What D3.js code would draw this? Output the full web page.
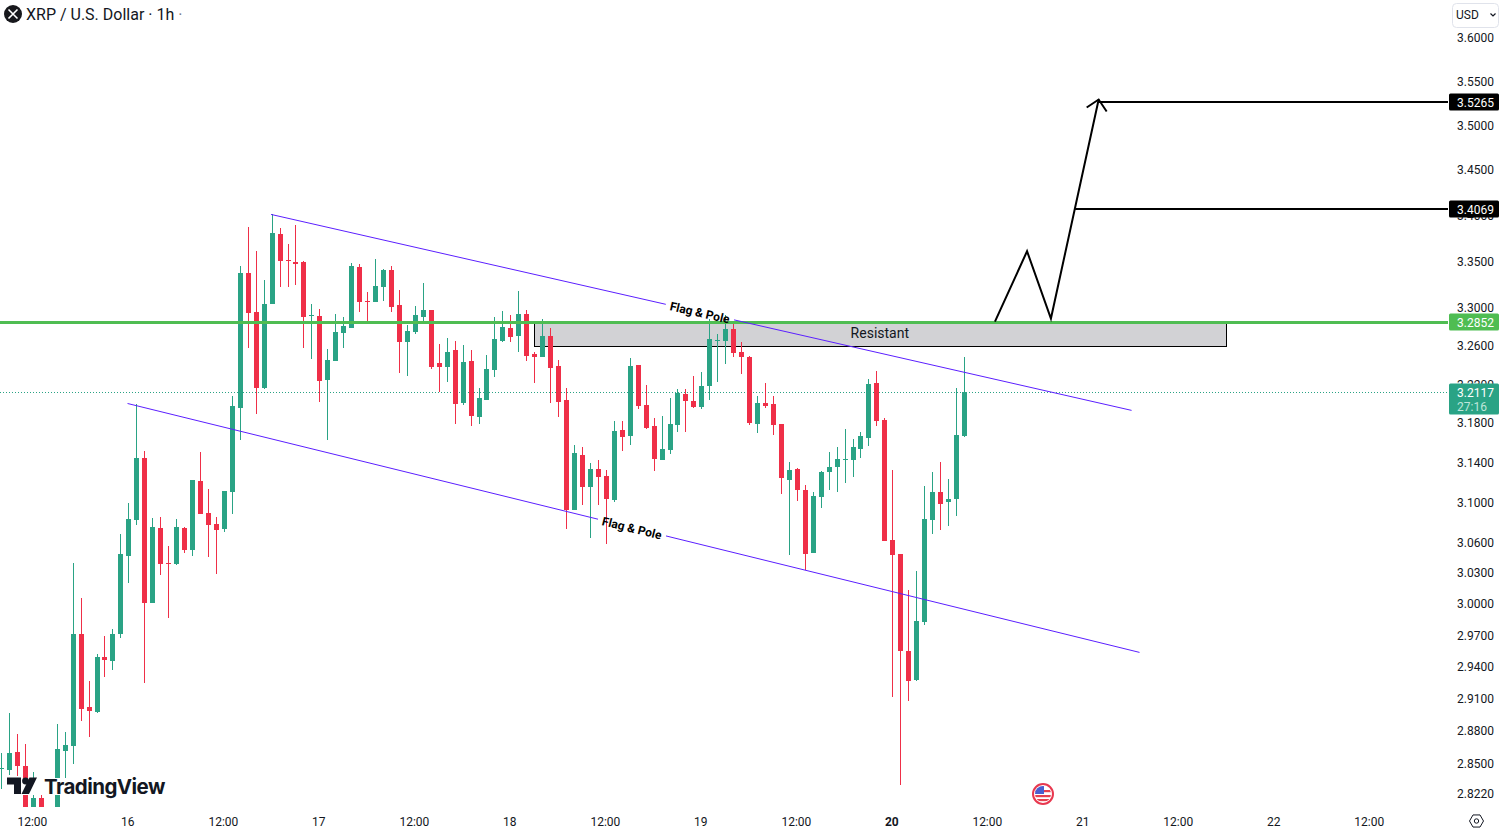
<!DOCTYPE html>
<html>
<head>
<meta charset="utf-8">
<title>XRP / U.S. Dollar</title>
<script src="https://cdnjs.cloudflare.com/ajax/libs/d3/7.9.0/d3.min.js"></script>
<style>
  html, body { margin: 0; padding: 0; background: #fff; overflow: hidden; }
  svg { display: block; font-family: Roboto, sans-serif; }
</style>
</head>
<body>
<svg id="chart" width="1502" height="831"></svg>
<script>
// hourly candles, first one is 15 Jul 08:00
const firstBar = "2025-07-15T08:00Z";
const opens = [
  2.8440,2.8431,2.8596,2.8468,2.8022,2.8175,2.7900,2.8049,2.8605,2.8651,
  2.9704,2.9013,2.8967,2.9485,2.9447,2.9704,3.0459,3.0815,3.1436,3.0001,
  3.0736,3.0391,3.0381,3.0736,3.0518,3.1204,3.0884,3.0776,3.0726,3.1094,
  3.1946,3.3366,3.2949,3.2153,3.3044,3.3788,3.3506,3.3484,3.3484,3.2907,
  3.2907,3.2236,3.2434,3.2728,3.2780,3.3430,3.3076,3.3065,3.3216,3.3398,
  3.3023,3.2633,3.2738,3.2896,3.2970,3.2413,3.2371,3.2548,3.1997,3.2434,
  3.1854,3.2028,3.2340,3.2643,3.2780,3.2696,3.2928,3.2506,3.2475,3.2696,
  3.2382,3.2028,3.0914,3.1466,3.1144,3.1325,3.1254,3.1013,3.1721,3.1659,
  3.2392,3.1977,3.1762,3.1415,3.1526,3.1772,3.2090,3.2018,3.1956,3.2174,
  3.2643,3.2643,3.2770,3.2527,3.2475,3.1782,3.1997,3.1987,3.1782,3.1214,
  3.1325,3.1114,3.0489,3.1043,3.1295,3.1345,3.1415,3.1415,3.1536,3.1639,
  3.2205,3.1823,3.0617,3.0479,2.9542,2.9267,2.9819,3.0815,3.1094,3.0993,
  3.1023,3.1659
];
const closes = [
  2.8449,2.8587,2.8468,2.8094,2.8175,2.8022,2.8000,2.8623,2.8660,2.9704,
  2.8994,2.8976,2.9485,2.9456,2.9704,3.0479,3.0825,3.1436,3.0001,3.0746,
  3.0381,3.0381,3.0746,3.0518,3.1214,3.0874,3.0766,3.0716,3.1104,3.1967,
  3.3366,3.2939,3.2153,3.3044,3.3799,3.3495,3.3495,3.3463,3.2896,3.2918,
  3.2226,3.2444,3.2738,3.2801,3.3441,3.3065,3.3065,3.3226,3.3398,3.3002,
  3.2633,3.2749,3.2918,3.2970,3.2371,3.2371,3.2527,3.1987,3.2423,3.1864,
  3.2049,3.2350,3.2664,3.2791,3.2685,3.2928,3.2486,3.2475,3.2696,3.2361,
  3.2008,3.0914,3.1486,3.1144,3.1325,3.1244,3.1023,3.1711,3.1649,3.2382,
  3.1967,3.1741,3.1425,3.1536,3.1782,3.2101,3.2018,3.1956,3.2174,3.2664,
  3.2654,3.2770,3.2517,3.2475,3.1792,3.1997,3.1967,3.1772,3.1234,3.1315,
  3.1114,3.0479,3.1053,3.1295,3.1345,3.1425,3.1425,3.1547,3.1659,3.2194,
  3.1813,3.0607,3.0469,2.9542,2.9258,2.9829,3.0825,3.1094,3.0973,3.1023,
  3.1670,3.2117
];
const highs = [
  2.8587,2.8957,2.8762,2.8670,2.8413,2.8212,2.8030,2.8857,2.8781,3.0391,
  3.0050,2.9258,2.9513,2.9685,2.9752,3.0676,3.0983,3.1987,3.1516,3.0835,
  3.0845,3.0558,3.0825,3.0746,3.1214,3.1496,3.1124,3.0845,3.1104,3.2079,
  3.3441,3.3865,3.3613,3.3291,3.4006,3.3854,3.3679,3.3887,3.3495,3.3044,
  3.2981,3.2559,3.2928,3.2896,3.3473,3.3463,3.3162,3.3516,3.3409,3.3441,
  3.3184,3.2812,3.3013,3.3259,3.2970,3.2611,3.2675,3.2643,3.2601,3.2548,
  3.2153,3.2496,3.2896,3.2960,3.2918,3.3173,3.2970,3.2527,3.2875,3.2780,
  3.2444,3.2153,3.1577,3.1547,3.1385,3.1415,3.1315,3.1813,3.1813,3.2465,
  3.2392,3.2184,3.1844,3.1864,3.2049,3.2142,3.2142,3.2278,3.2319,3.2875,
  3.2717,3.2918,3.2844,3.2633,3.2486,3.2079,3.2205,3.2079,3.1782,3.1395,
  3.1335,3.1164,3.1094,3.1305,3.1506,3.1547,3.1731,3.1629,3.1700,3.2246,
  3.2330,3.1844,3.1315,3.0479,3.0128,3.0313,3.1154,3.1295,3.1395,3.1224,
  3.2153,3.2475
];
const lows = [
  2.8258,2.8386,2.8376,2.8085,2.7977,2.7932,2.7850,2.7990,2.8294,2.8486,
  2.8883,2.8735,2.8957,2.9296,2.9362,2.9666,3.0196,3.0766,2.9239,3.0001,
  3.0274,2.9858,3.0372,3.0489,3.0459,3.0874,3.0450,3.0284,3.0696,3.0874,
  3.1618,3.2569,3.1885,3.2142,3.3034,3.3216,3.3216,3.3237,3.2569,3.2454,
  3.2008,3.1618,3.2434,3.2569,3.2780,3.2949,3.2844,3.3065,3.3076,3.2949,
  3.2309,3.2278,3.2717,3.2854,3.2350,3.2111,3.2215,3.1782,3.1977,3.1762,
  3.1782,3.2028,3.2267,3.2633,3.2633,3.2527,3.2434,3.2205,3.2475,3.1997,
  3.1854,3.0726,3.0914,3.0964,3.0637,3.0964,3.0577,3.0993,3.1516,3.1577,
  3.1936,3.1731,3.1305,3.1415,3.1476,3.1700,3.1700,3.1946,3.1936,3.2028,
  3.2215,3.2402,3.2475,3.2298,3.1772,3.1690,3.1946,3.1670,3.1074,3.0469,
  3.1003,3.0323,3.0489,3.0934,3.1114,3.1094,3.1184,3.1244,3.1436,3.1557,
  3.1762,3.0607,2.9107,2.8294,2.9078,2.9258,2.9791,3.0676,3.0716,3.0756,
  3.0855,3.1649
];

const priceTicks = [3.6,3.55,3.5,3.45,3.4,3.35,3.3,3.26,3.22,3.18,3.14,3.1,3.06,3.03,3,2.97,2.94,2.91,2.88,2.85,2.822];
const timeTicks = [
  "2025-07-15T12:00Z","2025-07-16T00:00Z","2025-07-16T12:00Z","2025-07-17T00:00Z","2025-07-17T12:00Z",
  "2025-07-18T00:00Z","2025-07-18T12:00Z","2025-07-19T00:00Z","2025-07-19T12:00Z","2025-07-20T00:00Z",
  "2025-07-20T12:00Z","2025-07-21T00:00Z","2025-07-21T12:00Z","2025-07-22T00:00Z","2025-07-22T12:00Z"
].map(d => new Date(d));

// drawings on the chart
const resistLevel = 3.2852;
const lastPrice = 3.2117;
const countdown = "27:16";
const targets = [
  { price: 3.5265, from: "2025-07-21T01:52Z" },
  { price: 3.4069, from: "2025-07-20T22:54Z" }
];
// label = where "Flag & Pole" sits along the line
const channels = [
  { from: ["2025-07-16T17:52Z", 3.4006], to: ["2025-07-21T06:00Z", 3.1926], label: 0.4984 },
  { from: ["2025-07-15T23:50Z", 3.1997], to: ["2025-07-21T07:00Z", 2.9532], label: 0.4985 }
];
const zoneTimes = ["2025-07-18T02:52Z", "2025-07-21T17:52Z"];
const zonePrices = [3.2852, 3.2596];
const projection = [
  ["2025-07-20T12:50Z", 3.2852],
  ["2025-07-20T16:52Z", 3.3605],
  ["2025-07-20T19:52Z", 3.2885],
  ["2025-07-21T01:52Z", 3.5288]
];

const GREEN = "#2aa385", RED = "#ef2f48", LEVEL = "#4fbd52", LINE = "#5b1fff", INK = "#131722";
const paneW = 1448, paneH = 807;

const svg = d3.select("#chart");

const x = d3.scaleUtc()
  .domain([new Date(firstBar), new Date("2025-07-22T12:00Z")])
  .range([1.54, 1370.3]);
const y = d3.scaleLog()
  .domain([2.822, 3.6])
  .range([793.5, 37.5]);

const candles = opens.map((o, i) => ({
  t: d3.utcHour.offset(new Date(firstBar), i),
  o: o, c: closes[i], h: highs[i], l: lows[i]
}));

svg.append("clipPath").attr("id", "pane")
  .append("rect").attr("width", paneW).attr("height", paneH);

const pane = svg.append("g").attr("clip-path", "url(#pane)");

// last price, dotted
pane.append("line")
  .attr("x1", 0).attr("x2", paneW)
  .attr("y1", Math.round(y(lastPrice)) + 0.5).attr("y2", Math.round(y(lastPrice)) + 0.5)
  .attr("stroke", GREEN).attr("stroke-dasharray", "1,2");

// resistant zone goes under the candles
pane.append("rect")
  .attr("x", Math.round(x(new Date(zoneTimes[0]))) + 0.5)
  .attr("y", Math.round(y(zonePrices[0])) + 0.5)
  .attr("width", Math.round(x(new Date(zoneTimes[1])) - x(new Date(zoneTimes[0]))))
  .attr("height", Math.round(y(zonePrices[1]) - y(zonePrices[0])))
  .attr("fill", "#d2d2d5")
  .attr("stroke", "#000")
  .attr("stroke-width", 1);

const bars = pane.append("g").attr("shape-rendering", "crispEdges");
const bar = bars.selectAll("g").data(candles).enter().append("g")
  .attr("fill", d => d.c >= d.o ? GREEN : RED);
bar.append("rect")
  .attr("x", d => Math.floor(x(d.t)))
  .attr("width", 1)
  .attr("y", d => Math.round(y(d.h)))
  .attr("height", d => Math.max(1, Math.round(y(d.l)) - Math.round(y(d.h))));
bar.append("rect")
  .attr("x", d => Math.floor(x(d.t)) - 2)
  .attr("width", 5)
  .attr("y", d => Math.round(y(Math.max(d.o, d.c))))
  .attr("height", d => Math.max(1, Math.round(y(Math.min(d.o, d.c))) - Math.round(y(Math.max(d.o, d.c)))));

// resistance line
pane.append("line")
  .attr("x1", 0).attr("x2", paneW)
  .attr("y1", Math.round(y(resistLevel)) + 0.5).attr("y2", Math.round(y(resistLevel)) + 0.5)
  .attr("stroke", LEVEL).attr("stroke-width", 3);

pane.append("text")
  .attr("x", (x(new Date(zoneTimes[0])) + x(new Date(zoneTimes[1]))) / 2)
  .attr("y", (y(zonePrices[0]) + y(zonePrices[1])) / 2 + 4)
  .attr("text-anchor", "middle")
  .attr("font-size", 14)
  .attr("fill", INK)
  .text("Resistant");

// channel lines, each with a gap for its label
channels.forEach(c => {
  const x0 = x(new Date(c.from[0])), y0 = y(c.from[1]);
  const x1 = x(new Date(c.to[0])), y1 = y(c.to[1]);
  const len = Math.hypot(x1 - x0, y1 - y0);
  const gap = 70;
  const mid = c.label * len;
  pane.append("line")
    .attr("x1", x0).attr("y1", y0).attr("x2", x1).attr("y2", y1)
    .attr("stroke", LINE).attr("stroke-width", 1)
    .attr("stroke-dasharray", (mid - gap / 2) + " " + gap + " " + len);
  const lx = x0 + (x1 - x0) * c.label, ly = y0 + (y1 - y0) * c.label;
  const angle = Math.atan2(y1 - y0, x1 - x0) * 180 / Math.PI;
  pane.append("text")
    .attr("transform", "translate(" + lx + "," + ly + ") rotate(" + angle + ")")
    .attr("text-anchor", "middle")
    .attr("dy", "0.4em")
    .attr("font-size", 12)
    .attr("font-weight", 700)
    .attr("fill", "#000")
    .text("Flag & Pole");
});

// projected path and targets
const pathLine = d3.line().x(d => x(new Date(d[0]))).y(d => y(d[1]));
pane.append("path")
  .attr("d", pathLine(projection))
  .attr("fill", "none").attr("stroke", "#000").attr("stroke-width", 2);
const tip = projection[projection.length - 1];
const tx = x(new Date(tip[0])), ty = y(tip[1]);
pane.append("path")
  .attr("d", "M" + (tx - 12) + "," + (ty + 8) + "L" + tx + "," + ty + "L" + (tx + 8) + "," + (ty + 12))
  .attr("fill", "none").attr("stroke", "#000").attr("stroke-width", 2);
pane.selectAll(".target").data(targets).enter().append("line")
  .attr("class", "target")
  .attr("x1", d => x(new Date(d.from))).attr("x2", paneW)
  .attr("y1", d => Math.round(y(d.price))).attr("y2", d => Math.round(y(d.price)))
  .attr("stroke", "#000").attr("stroke-width", 2);

// axes
const yAxis = svg.append("g")
  .attr("transform", "translate(" + paneW + ",0.4)")
  .call(d3.axisRight(y).tickValues(priceTicks).tickFormat(d3.format(".4f")).tickSize(0).tickPadding(9));
yAxis.attr("font-family", "Roboto").attr("font-size", 12);
yAxis.select(".domain").remove();
yAxis.selectAll("text").attr("fill", INK);

const xAxis = svg.append("g")
  .attr("transform", "translate(-1.5,808)")
  .call(d3.axisBottom(x).tickValues(timeTicks).tickSize(0).tickPadding(9)
    .tickFormat(d => d.getUTCHours() === 12 ? "12:00" : d3.utcFormat("%-d")(d)));
xAxis.attr("font-family", "Roboto").attr("font-size", 12);
xAxis.select(".domain").remove();
xAxis.selectAll("text")
  .attr("fill", INK)
  .attr("font-weight", d => d.getUTCDate() === 20 && d.getUTCHours() === 0 ? 700 : 400);

// price labels on the axis
function priceTag(price, fill, h) {
  const cy = Math.round(y(price));
  const g = svg.append("g");
  g.append("rect")
    .attr("x", 1449).attr("y", cy - 8.5).attr("width", 50).attr("height", h)
    .attr("rx", 1.5).attr("fill", fill);
  g.append("text")
    .attr("x", 1457).attr("y", cy + 4.5)
    .attr("font-size", 12).attr("fill", "#fff")
    .text(d3.format(".4f")(price));
  return g;
}
targets.forEach(t => priceTag(t.price, "#000", 17));
priceTag(resistLevel, LEVEL, 17);
priceTag(lastPrice, GREEN, 31).append("text")
  .attr("x", 1457).attr("y", Math.round(y(lastPrice)) + 18.5)
  .attr("font-size", 12).attr("fill", "#bfe6da")
  .text(countdown);

// title
svg.append("circle").attr("cx", 13).attr("cy", 14).attr("r", 9).attr("fill", "#17181c");
svg.append("path")
  .attr("d", "M8.5,9.5L17.5,18.5M17.5,9.5L8.5,18.5")
  .attr("stroke", "#fff").attr("stroke-width", 1.6).attr("fill", "none");
const title = svg.append("text").attr("x", 26).attr("y", 20).attr("font-size", 16).attr("fill", INK);
title.append("tspan").text("XRP / U.S. Dollar · 1h ");
title.append("tspan").attr("fill", "#787b86").text("·");

// currency button
svg.append("rect")
  .attr("x", 1452.5).attr("y", 3.5).attr("width", 46).attr("height", 24).attr("rx", 4)
  .attr("fill", "#fff").attr("stroke", "#e0e3eb");
svg.append("text").attr("x", 1456).attr("y", 19).attr("font-size", 12).attr("fill", INK).text("USD");
svg.append("path")
  .attr("d", "M1490.5,13.5L1493,16L1495.5,13.5")
  .attr("fill", "none").attr("stroke", INK).attr("stroke-width", 1.2);

// watermark sits on a white patch over the candles
svg.append("rect").attr("x", 5).attr("y", 778).attr("width", 162).attr("height", 17).attr("fill", "#fff");
svg.append("path")
  .attr("d", "M7,777.5H21V794H14V784.5H7ZM29.5,777.5H37L29,794H21.5Z")
  .attr("fill", INK);
svg.append("circle").attr("cx", 25.5).attr("cy", 781).attr("r", 3.4).attr("fill", INK);
svg.append("text")
  .attr("x", 44).attr("y", 794)
  .attr("font-family", "Inter").attr("font-size", 20.5).attr("font-weight", 700).attr("letter-spacing", -0.55)
  .attr("fill", INK)
  .text("TradingView");

// US news flag
const flag = svg.append("g").attr("transform", "translate(1043,794)");
svg.append("clipPath").attr("id", "flagClip").append("circle").attr("r", 8);
const flagInner = flag.append("g").attr("clip-path", "url(#flagClip)");
flagInner.append("rect").attr("x", -8).attr("y", -8).attr("width", 16).attr("height", 16).attr("fill", "#fff");
[-4, 1, 5].forEach(s => flagInner.append("rect").attr("x", -8).attr("y", s).attr("width", 16).attr("height", 2.2).attr("fill", "#e5404f"));
flagInner.append("rect").attr("x", -8).attr("y", -8).attr("width", 9).attr("height", 8).attr("fill", "#4a5fd0");
flag.append("circle").attr("r", 10).attr("fill", "none").attr("stroke", "#e8384f").attr("stroke-width", 2);

// settings icon
const hex = d3.range(6).map(i => [1476.5 + 7 * Math.cos(i * Math.PI / 3), 821 + 7 * Math.sin(i * Math.PI / 3)]);
svg.append("path")
  .attr("d", d3.line()(hex) + "Z")
  .attr("fill", "none").attr("stroke", INK).attr("stroke-width", 1);
svg.append("circle").attr("cx", 1476.5).attr("cy", 821).attr("r", 2.2)
  .attr("fill", "none").attr("stroke", INK).attr("stroke-width", 1);
</script>
</body>
</html>
